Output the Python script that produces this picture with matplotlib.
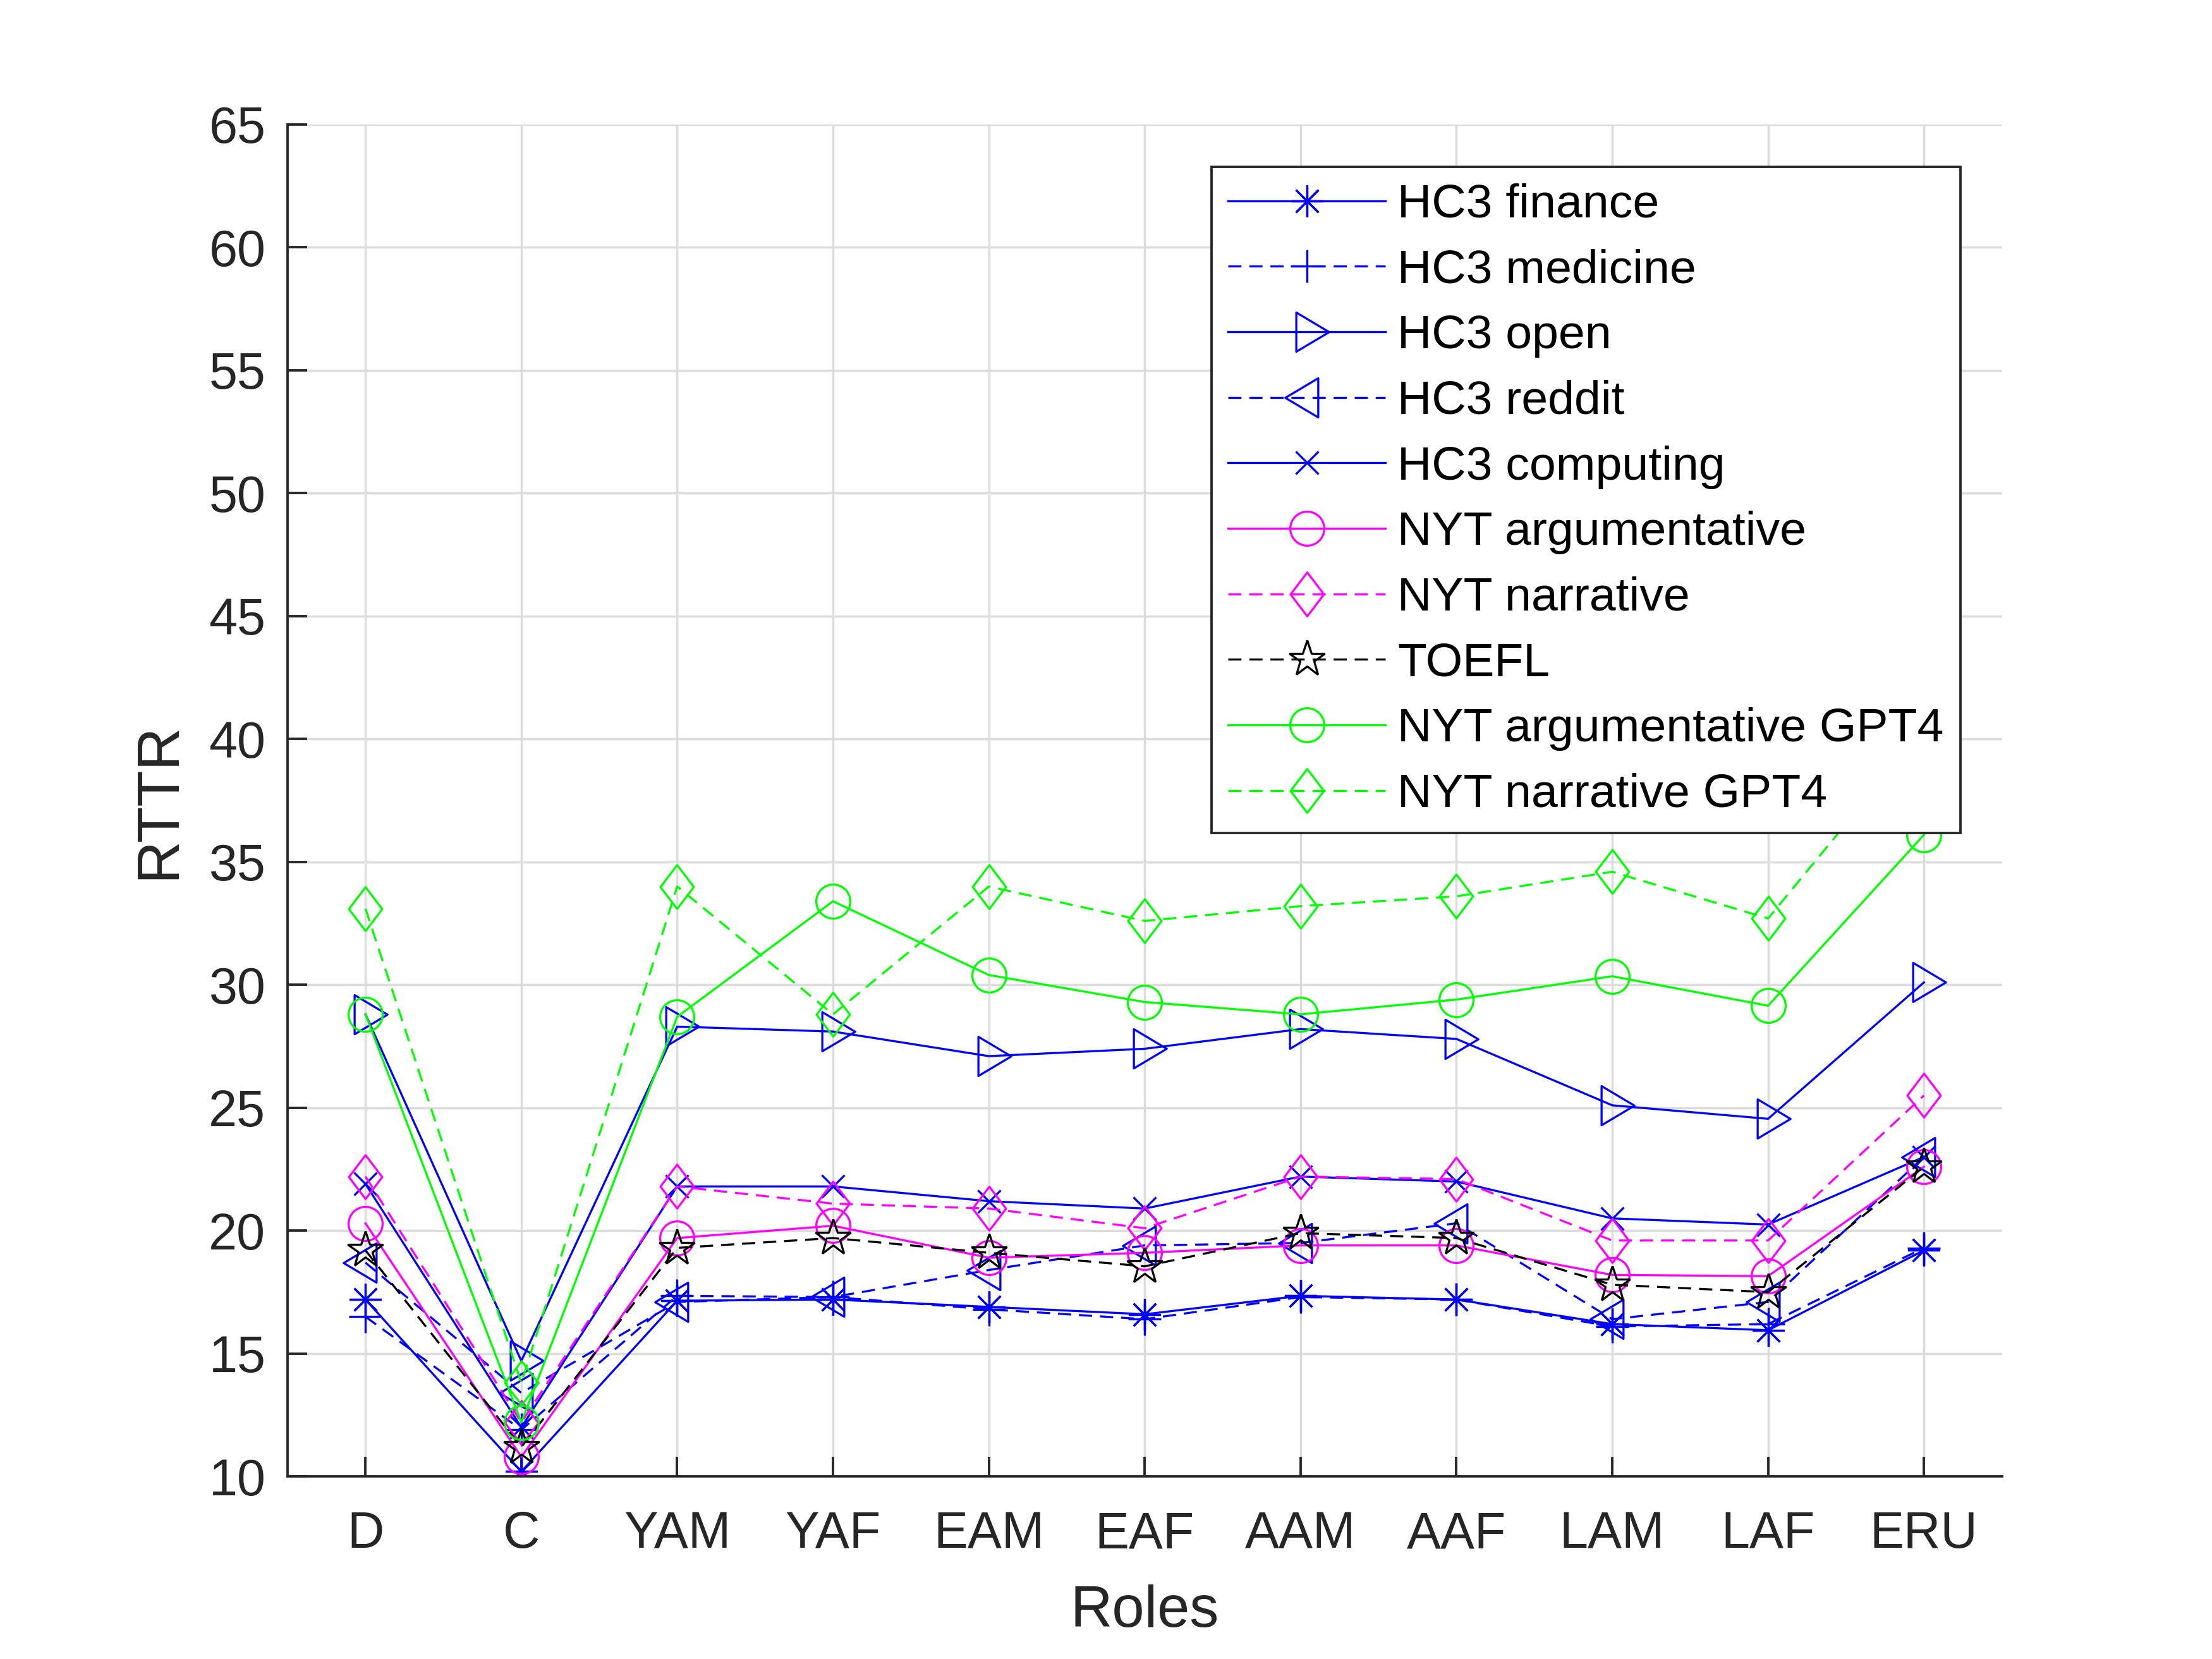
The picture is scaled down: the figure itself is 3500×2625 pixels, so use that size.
import matplotlib
matplotlib.use("Agg")
import matplotlib.pyplot as plt
from matplotlib.path import Path

plt.rcParams['font.family'] = ['Liberation Sans', 'DejaVu Sans']
plt.rcParams['lines.scale_dashes'] = False

# data
roles = ['D', 'C', 'YAM', 'YAF', 'EAM', 'EAF', 'AAM', 'AAF', 'LAM', 'LAF', 'ERU']

hc3_finance = [17.2, 10.2, 17.15, 17.2, 16.9, 16.6, 17.35, 17.2, 16.2, 15.95, 19.2]
hc3_medicine = [16.5, 11.9, 17.35, 17.3, 16.8, 16.4, 17.3, 17.2, 16.1, 16.2, 19.3]
hc3_open = [28.8, 14.7, 28.3, 28.1, 27.1, 27.4, 28.2, 27.8, 25.1, 24.55, 30.1]
hc3_reddit = [18.7, 13.4, 17.1, 17.3, 18.4, 19.4, 19.5, 20.3, 16.4, 17.1, 23.0]
hc3_computing = [21.9, 12.0, 21.8, 21.8, 21.2, 20.9, 22.2, 22.0, 20.5, 20.25, 23.0]
nyt_arg = [20.3, 10.8, 19.7, 20.2, 18.9, 19.1, 19.4, 19.4, 18.2, 18.15, 22.6]
nyt_narr = [22.2, 12.2, 21.8, 21.1, 20.9, 20.1, 22.2, 22.1, 19.6, 19.6, 25.5]
toefl = [19.2, 11.2, 19.3, 19.7, 19.1, 18.55, 19.9, 19.7, 17.8, 17.5, 22.6]
nyt_arg_gpt4 = [28.8, 12.2, 28.7, 33.4, 30.4, 29.3, 28.8, 29.4, 30.35, 29.15, 36.1]
nyt_narr_gpt4 = [33.1, 13.8, 34.0, 28.8, 34.0, 32.6, 33.2, 33.6, 34.6, 32.7, 40.4]

labels = ['HC3 finance', 'HC3 medicine', 'HC3 open', 'HC3 reddit', 'HC3 computing',
          'NYT argumentative', 'NYT narrative', 'TOEFL',
          'NYT argumentative GPT4', 'NYT narrative GPT4']

# MATLAB-like markers
tri_right = Path([(-0.28, 0.5), (0.56, 0.0), (-0.28, -0.5), (-0.28, 0.5)],
                 [Path.MOVETO, Path.LINETO, Path.LINETO, Path.CLOSEPOLY])
tri_left = Path([(0.28, 0.5), (-0.56, 0.0), (0.28, -0.5), (0.28, 0.5)],
                [Path.MOVETO, Path.LINETO, Path.LINETO, Path.CLOSEPOLY])
diamond = Path([(0, 0.5), (0.38, 0), (0, -0.5), (-0.38, 0), (0, 0.5)],
               [Path.MOVETO, Path.LINETO, Path.LINETO, Path.LINETO, Path.CLOSEPOLY])

blue, mag, grn = '#0000FF', '#FF00FF', '#00FF00'
dash = (0, (6.0, 3.6))

series = [
    (hc3_finance, blue, '-', (8, 2, 0), 14.5),
    (hc3_medicine, blue, dash, '+', 15),
    (hc3_open, blue, '-', tri_right, 20),
    (hc3_reddit, blue, dash, tri_left, 20),
    (hc3_computing, blue, '-', 'x', 10.5),
    (nyt_arg, mag, '-', 'o', 15.5),
    (nyt_narr, mag, dash, diamond, 20),
    (toefl, 'black', dash, '*', 17),
    (nyt_arg_gpt4, grn, '-', 'o', 15.5),
    (nyt_narr_gpt4, grn, dash, diamond, 20),
]

fig = plt.figure(figsize=(14, 10.5), dpi=250)
ax = fig.add_axes([0.13, 0.11, 0.775, 0.815])

x = list(range(1, len(roles) + 1))
for (vals, col, ls, mk, ms), lab in zip(series, labels):
    ax.plot(x, vals, color=col, linestyle=ls, linewidth=0.95, marker=mk,
            markersize=ms, markerfacecolor='none', markeredgecolor=col,
            markeredgewidth=0.95, label=lab)

ax.set_xlim(0.5, 11.5)
ax.set_ylim(10, 65)
ax.set_xticks(x)
ax.set_xticklabels(roles)
ax.set_yticks(range(10, 66, 5))

ax.grid(True, color='#dcdcdc', linewidth=1.0)
ax.set_axisbelow(True)
for side in ['top', 'right']:
    ax.spines[side].set_visible(False)
for side in ['left', 'bottom']:
    ax.spines[side].set_color('#262626')
    ax.spines[side].set_linewidth(1.1)

ax.tick_params(direction='in', length=9, width=1.1, colors='#262626',
               labelsize=23.3, top=False, right=False)
ax.tick_params(axis='x', pad=15.5)
ax.tick_params(axis='y', pad=10)

ax.set_xlabel('Roles', fontsize=26.5, color='#262626')
ax.set_ylabel('RTTR', fontsize=27, color='#262626')
ax.xaxis.set_label_coords(0.5, -0.1)
ax.yaxis.set_label_coords(-0.075, 0.5)
ax.xaxis.label.set_va('center')
ax.yaxis.label.set_va('center')

leg = ax.legend(loc='upper right', bbox_to_anchor=(0.9757, 0.9688), fontsize=21.7,
                frameon=True, fancybox=False, framealpha=1, edgecolor='#262626',
                handlelength=3.3, handletextpad=0.25, labelspacing=0.46,
                borderpad=0.35, borderaxespad=0)
leg.get_frame().set_linewidth(1.1)

fig.savefig('out.png', dpi=250, facecolor='white')
